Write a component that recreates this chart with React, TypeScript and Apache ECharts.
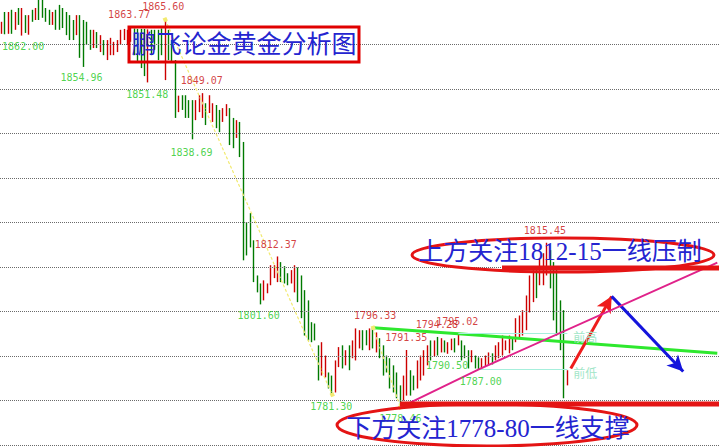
import React, { useEffect, useRef } from "react";
import * as echarts from "echarts";

// [open, close, low, high]
const candles: number[][] = [
  [1863.0, 1864.4, 1862.4, 1865.1], [1866.5, 1863.0, 1862.3, 1867.3], [1863.2, 1866.4, 1862.4, 1867.3], [1867.0, 1863.3, 1862.4, 1867.8],
  [1863.9, 1866.5, 1863.3, 1867.3], [1867.6, 1865.0, 1864.4, 1868.2], [1862.8, 1867.4, 1862.0, 1868.2], [1866.0, 1863.4, 1862.6, 1866.6],
  [1863.0, 1865.9, 1862.2, 1866.6], [1867.3, 1865.5, 1865.1, 1867.8], [1865.9, 1867.7, 1865.5, 1868.2], [1869.6, 1866.2, 1865.5, 1870.4],
  [1870.0, 1866.7, 1866.0, 1870.7], [1867.7, 1865.5, 1865.1, 1868.2], [1867.2, 1864.9, 1864.4, 1867.8], [1864.9, 1866.8, 1864.4, 1867.3],
  [1867.1, 1863.9, 1863.3, 1867.8], [1868.2, 1864.0, 1863.3, 1868.9], [1867.6, 1864.3, 1863.7, 1868.2], [1866.6, 1862.8, 1862.1, 1867.3],
  [1866.0, 1861.8, 1861.0, 1866.6], [1865.0, 1861.6, 1861.0, 1865.5], [1862.8, 1865.9, 1862.1, 1866.6], [1865.8, 1858.2, 1857.0, 1866.6],
  [1864.5, 1856.2, 1854.96, 1865.5], [1864.4, 1860.6, 1859.9, 1865.1], [1862.7, 1859.4, 1858.8, 1863.3], [1859.6, 1862.6, 1859.2, 1863.3],
  [1862.2, 1859.8, 1859.2, 1862.8], [1858.9, 1861.4, 1858.3, 1862.1], [1860.4, 1858.2, 1857.6, 1861.0], [1857.2, 1860.2, 1856.5, 1861.0],
  [1858.2, 1860.8, 1857.6, 1861.5], [1858.1, 1860.0, 1857.6, 1860.6], [1858.8, 1860.5, 1858.3, 1861.0], [1860.5, 1862.7, 1859.9, 1863.3],
  [1861.5, 1863.0, 1861.0, 1863.5], [1860.6, 1862.6, 1859.9, 1863.3], [1861.1, 1863.2, 1860.6, 1863.77], [1863.2, 1858.6, 1857.6, 1863.6],
  [1863.0, 1857.2, 1856.1, 1863.5], [1862.8, 1856.0, 1854.7, 1863.5], [1863.0, 1854.5, 1852.9, 1863.5], [1856.0, 1862.9, 1851.48, 1863.4],
  [1862.9, 1858.5, 1857.6, 1863.3], [1862.6, 1859.4, 1858.8, 1863.3], [1862.4, 1857.5, 1856.5, 1863.3], [1863.0, 1858.4, 1857.6, 1863.6],
  [1856.5, 1862.6, 1852.0, 1865.6], [1862.5, 1857.4, 1856.5, 1863.3], [1860.3, 1856.9, 1856.1, 1861.0], [1856.0, 1844.6, 1843.5, 1856.5],
  [1845.5, 1848.0, 1844.8, 1848.5], [1848.0, 1845.9, 1845.3, 1848.6], [1848.0, 1844.3, 1843.5, 1848.6], [1846.9, 1844.2, 1843.5, 1847.5],
  [1846.6, 1840.5, 1838.69, 1847.5], [1843.7, 1846.8, 1843.0, 1847.5], [1845.4, 1848.0, 1844.8, 1848.6], [1844.2, 1848.3, 1843.5, 1849.07],
  [1846.2, 1842.6, 1841.9, 1846.8], [1845.2, 1848.0, 1844.6, 1848.6], [1843.2, 1846.2, 1842.6, 1846.8], [1845.8, 1842.0, 1841.2, 1846.4],
  [1844.7, 1841.0, 1840.3, 1845.3], [1843.1, 1845.2, 1842.6, 1845.7], [1844.3, 1846.1, 1843.9, 1846.6], [1845.0, 1838.5, 1837.4, 1845.7],
  [1842.8, 1837.6, 1836.7, 1843.5], [1839.6, 1842.4, 1839.0, 1843.0], [1841.8, 1835.8, 1834.7, 1842.6], [1837.5, 1812.5, 1811.5, 1838.1],
  [1819.4, 1813.4, 1812.6, 1820.1], [1821.4, 1815.2, 1814.4, 1822.1], [1815.3, 1807.6, 1806.6, 1816.0], [1807.6, 1804.9, 1804.3, 1808.1],
  [1805.8, 1802.4, 1801.6, 1806.3], [1803.1, 1806.3, 1802.5, 1807.0], [1804.5, 1805.9, 1804.1, 1806.3], [1806.5, 1809.8, 1805.9, 1810.4],
  [1807.9, 1809.9, 1807.5, 1810.4], [1807.4, 1811.5, 1806.6, 1812.37], [1810.5, 1807.2, 1806.6, 1811.1], [1809.6, 1807.0, 1806.3, 1810.2],
  [1808.1, 1806.4, 1805.9, 1808.6], [1806.8, 1808.8, 1806.3, 1809.3], [1805.2, 1809.6, 1804.3, 1810.4], [1809.1, 1803.1, 1802.1, 1809.9],
  [1807.4, 1799.6, 1798.5, 1808.1], [1804.0, 1795.8, 1794.6, 1804.8], [1801.8, 1794.6, 1793.5, 1802.5], [1797.0, 1793.7, 1793.1, 1797.6],
  [1796.8, 1794.1, 1793.5, 1797.3], [1791.7, 1785.6, 1784.5, 1792.4], [1786.6, 1792.2, 1785.6, 1793.1], [1785.9, 1789.4, 1785.2, 1790.1],
  [1785.8, 1783.3, 1782.7, 1786.3], [1785.0, 1782.1, 1781.3, 1785.6], [1782.8, 1788.0, 1781.8, 1789.0], [1788.2, 1791.3, 1787.5, 1792.0],
  [1791.8, 1788.0, 1787.2, 1792.4], [1788.4, 1790.7, 1787.9, 1791.3], [1791.8, 1787.6, 1786.8, 1792.4], [1790.0, 1792.9, 1789.5, 1793.5],
  [1790.0, 1795.3, 1789.0, 1796.2], [1792.4, 1795.1, 1791.7, 1795.8], [1795.1, 1792.0, 1791.3, 1795.8], [1795.2, 1792.9, 1792.4, 1795.8],
  [1792.0, 1795.5, 1791.3, 1796.2], [1795.8, 1792.4, 1791.7, 1796.33], [1791.4, 1794.7, 1790.8, 1795.3], [1793.4, 1790.1, 1789.5, 1794.0],
  [1791.8, 1786.7, 1785.6, 1792.4], [1789.6, 1786.9, 1786.3, 1790.1], [1788.8, 1783.6, 1782.7, 1789.5], [1787.3, 1782.6, 1781.8, 1787.9],
  [1785.8, 1781.3, 1780.5, 1786.3], [1782.9, 1779.2, 1778.46, 1783.4], [1780.6, 1784.9, 1780.0, 1785.6], [1782.3, 1790.2, 1781.1, 1791.35],
  [1786.0, 1782.0, 1781.1, 1786.8], [1785.1, 1782.8, 1782.3, 1785.6], [1783.5, 1788.3, 1782.7, 1789.0], [1785.3, 1789.4, 1784.5, 1790.1],
  [1786.4, 1790.6, 1785.6, 1791.3], [1788.5, 1791.8, 1787.9, 1792.4], [1793.0, 1789.6, 1789.0, 1793.5], [1790.4, 1793.0, 1789.9, 1793.5],
  [1793.6, 1790.6, 1790.1, 1794.28], [1791.3, 1793.4, 1790.8, 1794.0], [1793.0, 1791.3, 1790.8, 1793.5], [1791.0, 1792.6, 1790.5, 1793.1],
  [1791.8, 1793.5, 1791.3, 1793.9], [1793.5, 1791.4, 1790.8, 1794.0], [1792.9, 1794.5, 1792.4, 1795.02], [1793.0, 1789.7, 1789.0, 1793.5],
  [1791.9, 1790.0, 1789.5, 1792.4], [1790.8, 1787.9, 1787.2, 1791.3], [1789.0, 1790.8, 1788.6, 1791.3], [1789.7, 1787.7, 1787.2, 1790.1],
  [1789.2, 1787.5, 1787.0, 1789.7], [1787.6, 1789.0, 1787.2, 1789.5], [1788.0, 1789.7, 1787.7, 1790.1], [1788.3, 1790.3, 1787.9, 1790.8],
  [1790.1, 1788.5, 1788.1, 1790.6], [1789.5, 1791.9, 1789.0, 1792.4], [1789.9, 1792.5, 1789.5, 1793.1], [1790.7, 1794.0, 1790.1, 1794.6],
  [1791.6, 1793.1, 1791.3, 1793.5], [1791.1, 1794.1, 1790.6, 1794.6], [1793.5, 1791.7, 1791.3, 1794.0], [1793.7, 1797.8, 1793.1, 1798.5],
  [1794.6, 1798.5, 1794.0, 1799.1], [1795.3, 1799.6, 1794.6, 1800.3], [1796.6, 1802.8, 1795.8, 1803.6], [1800.8, 1807.2, 1799.8, 1808.1],
  [1802.9, 1808.4, 1802.1, 1809.3], [1809.0, 1803.8, 1803.0, 1809.7], [1806.6, 1811.2, 1805.9, 1812.0], [1806.8, 1812.2, 1805.9, 1813.1],
  [1809.0, 1814.6, 1808.1, 1815.45], [1812.9, 1806.2, 1805.2, 1813.8], [1810.3, 1799.3, 1798.0, 1811.1], [1808.9, 1796.0, 1794.6, 1809.7],
  [1801.7, 1792.4, 1791.3, 1802.5], [1799.3, 1782.0, 1780.5, 1800.3], [1783.8, 1786.3, 1783.4, 1786.8],
];

const slotCount = 211;
const categories = Array.from({ length: slotCount }, (_, i) => String(i));

const gridValues = [1770, 1780, 1790, 1800, 1810, 1820, 1830, 1840, 1850, 1860];

const highIdx = [48, 38, 59, 81, 109, 119, 128, 134, 160];
const highVals = [1865.6, 1863.77, 1849.07, 1812.37, 1796.33, 1791.35, 1794.28, 1795.02, 1815.45];
const lowIdx = [6, 24, 43, 56, 76, 97, 117, 131, 140];
const lowVals = [1862.0, 1854.96, 1851.48, 1838.69, 1801.6, 1781.3, 1778.46, 1790.5, 1787.0];

// zigzag swing segments
const zigzagSegments: number[][][] = [
  [[12, 1870.7], [24, 1854.96]],
  [[48, 1865.6], [97, 1781.3]],
  [[109, 1796.33], [117, 1778.46]],
];
const greenTrend = [[109, 1796.33], [134, 1795.02], [210, 1790.6]];
const pinkTrend = [[117, 1778.46], [140, 1787.0], [210, 1811.0]];
const prevHigh = [[134, 1795.02], [166, 1795.02]];
const prevLow = [[140, 1787.0], [166, 1787.0]];
const redArrow = [[167, 1787.2], [179, 1803.4]];
const blueArrow = [[179, 1803.4], [200, 1786.5]];

const titleText = "鹏飞论金黄金分析图";
const upperNote = "上方关注1812-15一线压制";
const lowerNote = "下方关注1778-80一线支撑";

// label offsets (px) — styling only
const highOffsets = [[-2, -13], [-2, -13], [-1, -13], [-2, -12], [2, -12], [-1, -12], [-1, -12], [-1, -12], [-2, -12]];
const lowOffsets = [[1, 11], [-2, 11], [-1, 12], [-1, 13], [-2, 11], [-1, 12], [0, 11], [-1, 12], [2, 12]];

const monoFont = '"DejaVu Sans Mono", "Liberation Mono", monospace';
const noteFont = '"Liberation Serif", "Noto Sans CJK SC", serif';

export default function App() {
  const ref = useRef<HTMLDivElement>(null);
  useEffect(() => {
    if (!ref.current) return;
    const chart = echarts.init(ref.current, undefined, { renderer: "svg" });
    const labelData = [
      ...highIdx.map((ix, k) => ({
        value: [ix, highVals[k]],
        label: { show: true, position: "inside", formatter: highVals[k].toFixed(2), color: "#c81010", offset: highOffsets[k] },
      })),
      ...lowIdx.map((ix, k) => ({
        value: [ix, lowVals[k]],
        label: { show: true, position: "inside", formatter: lowVals[k].toFixed(2), color: "#22c822", offset: lowOffsets[k] },
      })),
    ];
    const option: any = {
      animation: false,
      backgroundColor: "#ffffff",
      grid: { left: 0, right: 0, top: 0, bottom: 0 },
      xAxis: { type: "category", data: categories, show: false, boundaryGap: true },
      yAxis: { type: "value", min: 1769.55, max: 1870, show: false, splitLine: { show: false } },
      series: [
        {
          type: "line",
          data: [],
          z: 1,
          markLine: {
            silent: true,
            symbol: ["none", "none"],
            label: { show: false },
            lineStyle: { color: "#6a6a6a", type: [1, 1], width: 1 },
            data: gridValues.map((v) => ({ yAxis: v })),
          },
        },
        {
          type: "candlestick",
          data: candles,
          z: 2,
          barWidth: 1,
          itemStyle: {
            color: "#cc0000",
            color0: "#007a00",
            borderColor: "#cc0000",
            borderColor0: "#007a00",
            borderWidth: 1.4,
          },
        },
        {
          type: "line",
          data: [],
          z: 3,
          markLine: {
            silent: true,
            symbol: ["rect", "rect"],
            symbolSize: 4,
            label: { show: false },
            lineStyle: { color: "#f2ea70", type: [3, 2], width: 1.2 },
            itemStyle: { color: "#f2dd30" },
            data: zigzagSegments.map((s) => [{ coord: s[0] }, { coord: s[1] }]),
          },
        },
        {
          type: "line",
          z: 4,
          data: greenTrend.map((p, i) => ({ value: p, symbol: i === greenTrend.length - 1 ? "none" : "rect" })),
          symbol: "rect",
          symbolSize: 7,
          lineStyle: { color: "#2ee82e", width: 3 },
          itemStyle: { color: "#2ee82e" },
        },
        {
          type: "line",
          z: 5,
          data: pinkTrend.map((p, i) => ({ value: p, symbol: i === pinkTrend.length - 1 ? "none" : "rect" })),
          symbol: "rect",
          symbolSize: 6,
          lineStyle: { color: "#e0228a", width: 2 },
          itemStyle: { color: "#e0228a" },
        },
        {
          type: "line",
          data: [],
          z: 6,
          markLine: {
            silent: true,
            symbol: ["none", "none"],
            lineStyle: { color: "#a6efdc", type: "solid", width: 1 },
            label: {
              show: true,
              position: "end",
              color: "#a2e6c8",
              fontSize: 12,
              fontFamily: '"Noto Sans CJK SC", sans-serif',
              distance: 6,
              offset: [0, 3],
            },
            data: [
              [{ coord: prevHigh[0], name: "前高" }, { coord: prevHigh[1] }],
              [{ coord: prevLow[0], name: "前低" }, { coord: prevLow[1] }],
            ].map((d) => [{ ...d[0], label: { formatter: d[0].name } }, d[1]]),
          },
        },
        {
          type: "line",
          data: [],
          z: 7,
          markLine: {
            silent: true,
            symbol: ["none", "arrow"],
            symbolSize: [12, 16],
            label: { show: false },
            data: [
              [
                { coord: redArrow[0], lineStyle: { color: "#ee1c1c", width: 3, type: "solid" }, itemStyle: { color: "#ee1c1c" } },
                { coord: redArrow[1], lineStyle: { color: "#ee1c1c", width: 3, type: "solid" }, itemStyle: { color: "#ee1c1c" } },
              ],
              [
                { coord: blueArrow[0], lineStyle: { color: "#1414dc", width: 3, type: "solid" }, itemStyle: { color: "#1414dc" } },
                { coord: blueArrow[1], lineStyle: { color: "#1414dc", width: 3, type: "solid" }, itemStyle: { color: "#1414dc" } },
              ],
            ],
          },
        },
        {
          type: "scatter",
          z: 8,
          symbolSize: 0,
          silent: true,
          label: { fontFamily: monoFont, fontSize: 10 },
          data: labelData,
        },
      ],
      graphic: [
        {
          type: "rect",
          z: 100,
          shape: { x: 129, y: 27, width: 230, height: 35 },
          style: { fill: "none", stroke: "#e00000", lineWidth: 3 },
        },
        {
          type: "text",
          z: 101,
          x: 244,
          y: 44,
          style: { text: titleText, fill: "#2424d0", fontSize: 25, fontFamily: noteFont, align: "center", verticalAlign: "middle" },
        },
        {
          type: "ellipse",
          z: 100,
          shape: { cx: 563, cy: 255, rx: 151, ry: 17 },
          style: { fill: "none", stroke: "#e41414", lineWidth: 3 },
        },
        {
          type: "line",
          z: 100,
          shape: { x1: 502, y1: 268, x2: 719, y2: 268 },
          style: { stroke: "#e41414", lineWidth: 5 },
        },
        {
          type: "text",
          z: 101,
          x: 560,
          y: 251,
          style: { text: upperNote, fill: "#2424d0", fontSize: 25, fontFamily: noteFont, align: "center", verticalAlign: "middle" },
        },
        {
          type: "ellipse",
          z: 100,
          shape: { cx: 487, cy: 425, rx: 150, ry: 21 },
          style: { fill: "none", stroke: "#e41414", lineWidth: 3 },
        },
        {
          type: "line",
          z: 100,
          shape: { x1: 400, y1: 404, x2: 719, y2: 404 },
          style: { stroke: "#e41414", lineWidth: 5 },
        },
        {
          type: "text",
          z: 101,
          x: 488,
          y: 428,
          style: { text: lowerNote, fill: "#2424d0", fontSize: 25, fontFamily: noteFont, align: "center", verticalAlign: "middle" },
        },
      ],
    };
    chart.setOption(option);
    return () => chart.dispose();
  }, []);
  return <div ref={ref} style={{ position: "absolute", left: 0, top: 0, width: 719, height: 447 }} />;
}
